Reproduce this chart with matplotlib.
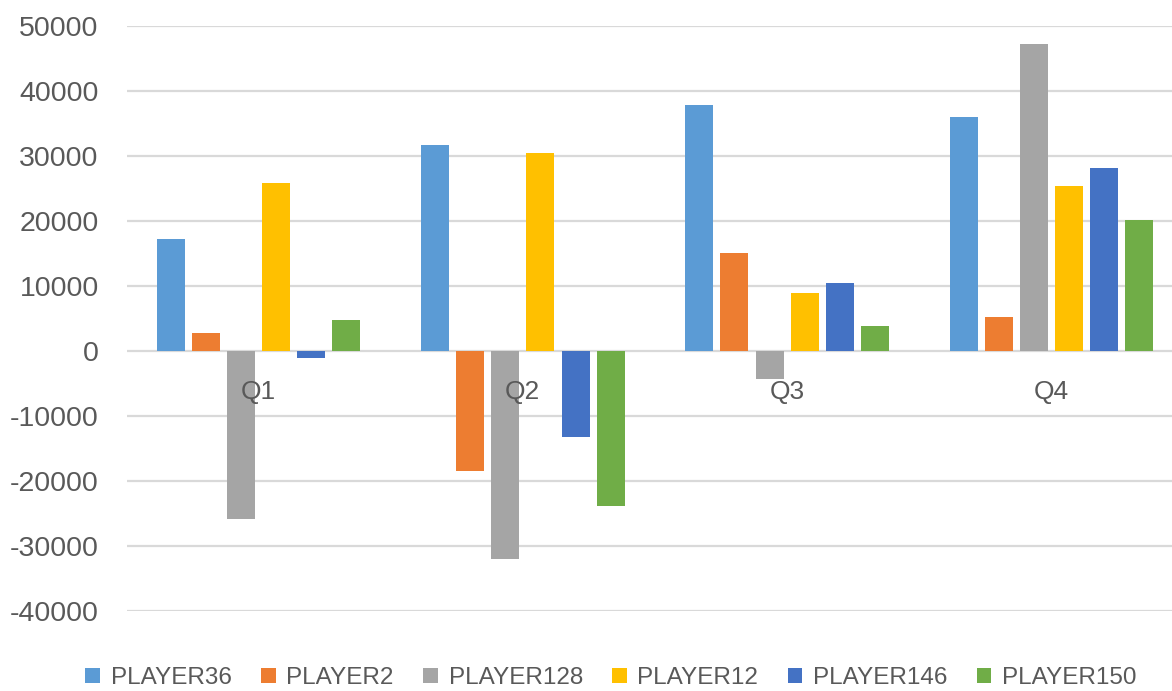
import matplotlib
matplotlib.use("Agg")
import matplotlib.pyplot as plt
import matplotlib.transforms as mtransforms
import numpy as np

categories = ["Q1", "Q2", "Q3", "Q4"]
series_names = ["PLAYER36", "PLAYER2", "PLAYER128", "PLAYER12", "PLAYER146", "PLAYER150"]
player36 = [17300, 31750, 37800, 36050]
player2 = [2700, -18500, 15050, 5200]
player128 = [-25850, -31950, -4300, 47200]
player12 = [25900, 30500, 8950, 25450]
player146 = [-1100, -13250, 10500, 28200]
player150 = [4700, -23850, 3900, 20100]
y_ticks = [-40000, -30000, -20000, -10000, 0, 10000, 20000, 30000, 40000, 50000]

series_values = [player36, player2, player128, player12, player146, player150]
colors = ["#5B9BD5", "#ED7D31", "#A5A5A5", "#FFC000", "#4472C4", "#70AD47"]

plt.rcParams['font.family'] = ['Liberation Sans', 'DejaVu Sans']
text_color = "#595959"

fig = plt.figure(figsize=(11.72, 6.91), dpi=100)
ax = fig.add_axes([126.5 / 1172, 1 - 611 / 691, (1183.5 - 126.5) / 1172, (611 - 26) / 691])

x = np.arange(len(categories))
step = 0.133
width = 0.106
n = len(series_names)
handles = []
for i, (name, vals, c) in enumerate(zip(series_names, series_values, colors)):
    offs = (i - (n - 1) / 2) * step
    b = ax.bar(x + offs, vals, width=width, color=c, label=name, zorder=3)
    handles.append(b)

ax.set_xlim(-0.5, len(categories) - 0.5)
ax.set_ylim(-40000, 50000)
ax.set_yticks(y_ticks)
ax.set_yticklabels([str(v) for v in y_ticks])
ax.tick_params(axis='y', length=0, pad=20, labelsize=20.5, labelcolor=text_color)
ax.tick_params(axis='x', length=0, labelbottom=False)
ax.grid(axis='y', color="#D9D9D9", linewidth=1.6, zorder=0)
for s in ax.spines.values():
    s.set_visible(False)

offset = mtransforms.ScaledTranslation(0, -29 / 100, fig.dpi_scale_trans)
for xi, lab in zip(x, categories):
    ax.text(xi, 0, lab, ha='center', va='top', fontsize=19, color=text_color,
            transform=ax.transData + offset, zorder=4)

leg = fig.legend(handles=handles, labels=series_names, loc='center',
                 bbox_to_anchor=(611 / 1172, 1 - 678 / 691), ncol=6, frameon=False,
                 fontsize=17.5, handlelength=0.6, handleheight=0.6, handletextpad=0.45,
                 columnspacing=1.2, labelcolor=text_color)

fig.savefig("out.png", dpi=100)
